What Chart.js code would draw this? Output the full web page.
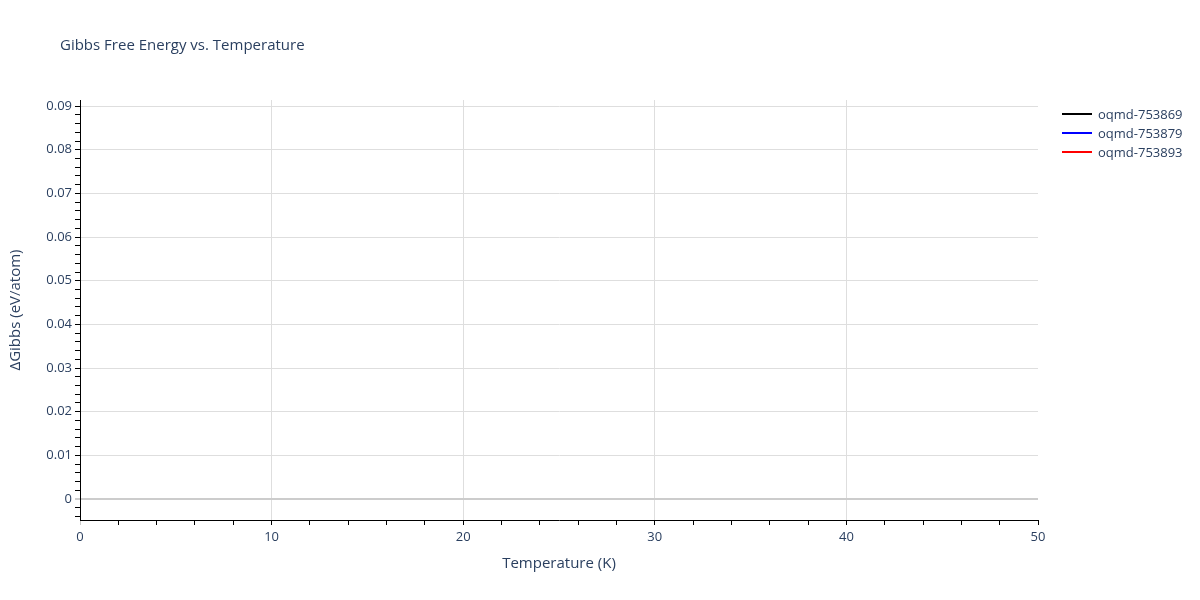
<!DOCTYPE html>
<html>
<head>
<meta charset="utf-8">
<script src="https://cdn.jsdelivr.net/npm/chart.js@4"></script>
<style>
  html, body { margin: 0; padding: 0; background: #fff; }
  #wrap { position: relative; width: 1200px; height: 600px; }
</style>
</head>
<body>
<div id="wrap"><canvas id="gibbsChart" width="1200" height="600"></canvas></div>
<script>
// --- data ---
const seriesNames = ['oqmd-753869', 'oqmd-753879', 'oqmd-753893'];
const seriesColors = ['#000000', '#0000ff', '#ff0000'];
// no points of these series fall inside the visible window
const series753869 = [];
const series753879 = [];
const series753893 = [];
const xTickLabels = [0, 10, 20, 30, 40, 50];
const yTickLabels = [0, 0.01, 0.02, 0.03, 0.04, 0.05, 0.06, 0.07, 0.08, 0.09];

const FONT = '"Open Sans", Verdana, Arial, sans-serif';
const TEXT = '#2a3f5f';
const GRID = '#dedede';
const ZERO = '#cccccc';

const isMajorX = v => xTickLabels.some(t => Math.abs(t - v) < 1e-9);
const isMajorY = v => yTickLabels.some(t => Math.abs(t - v) < 1e-9);

// titles and legend drawn at fixed spots, plotly-like
const textPlugin = {
    id: 'textPlugin',
    afterDraw(chart) {
        const ctx = chart.ctx;
        const area = chart.chartArea;
        ctx.save();
        ctx.fillStyle = TEXT;
        ctx.textBaseline = 'middle';

        ctx.font = '15px ' + FONT;
        ctx.textAlign = 'left';
        ctx.fillText('Gibbs Free Energy vs. Temperature', 60, 46);

        ctx.textAlign = 'center';
        ctx.fillText('Temperature (K)', (area.left + area.right) / 2, 564);

        ctx.save();
        ctx.translate(16, (area.top + area.bottom) / 2);
        ctx.rotate(-Math.PI / 2);
        ctx.fillText('\u0394Gibbs (eV/atom)', 0, 0);
        ctx.restore();

        // legend
        ctx.font = '13px ' + FONT;
        ctx.textAlign = 'left';
        chart.data.datasets.forEach((ds, i) => {
            const y = 114 + i * 19;
            ctx.strokeStyle = ds.borderColor;
            ctx.lineWidth = 2;
            ctx.beginPath();
            ctx.moveTo(1062, y);
            ctx.lineTo(1092, y);
            ctx.stroke();
            ctx.fillStyle = TEXT;
            ctx.fillText(ds.label, 1098, y + 1);
        });
        ctx.restore();
    }
};

const ctx = document.getElementById('gibbsChart').getContext('2d');
new Chart(ctx, {
    type: 'line',
    data: {
        datasets: [
            { label: seriesNames[0], data: series753869, borderColor: seriesColors[0], borderWidth: 2, pointRadius: 0 },
            { label: seriesNames[1], data: series753879, borderColor: seriesColors[1], borderWidth: 2, pointRadius: 0 },
            { label: seriesNames[2], data: series753893, borderColor: seriesColors[2], borderWidth: 2, pointRadius: 0 }
        ]
    },
    options: {
        responsive: false,
        animation: false,
        layout: { padding: { top: 100, right: 162, left: 0, bottom: 0 } },
        plugins: {
            legend: { display: false },
            title: { display: false },
            tooltip: { enabled: false }
        },
        scales: {
            x: {
                type: 'linear',
                min: 0,
                max: 50,
                afterFit(scale) { scale.height = 80; },
                afterBuildTicks(scale) {
                    const t = [];
                    for (let v = 0; v <= 50; v += 2) t.push({ value: v });
                    scale.ticks = t;
                },
                ticks: {
                    autoSkip: false,
                    maxRotation: 0,
                    padding: 4,
                    color: TEXT,
                    font: { family: FONT, size: 13 },
                    callback: v => isMajorX(v) ? String(v) : ''
                },
                grid: {
                    drawOnChartArea: true,
                    drawTicks: true,
                    tickLength: 5,
                    color: c => (isMajorX(c.tick.value) && c.tick.value !== 0 && c.tick.value !== 50) ? GRID : 'rgba(0,0,0,0)',
                    tickColor: c => c.tick.value === 0 ? ZERO : '#000000',
                    lineWidth: 1
                },
                border: { display: true, color: '#000000', width: 1 }
            },
            y: {
                type: 'linear',
                min: -0.0048,
                max: 0.0914,
                afterFit(scale) { scale.width = 80; },
                afterBuildTicks(scale) {
                    const t = [];
                    for (let k = -2; k <= 45; k++) t.push({ value: Math.round(k * 2) / 1000 });
                    scale.ticks = t;
                },
                ticks: {
                    autoSkip: false,
                    padding: 3,
                    color: TEXT,
                    font: { family: FONT, size: 13 },
                    callback: v => isMajorY(v) ? String(Math.round(v * 100) / 100) : ''
                },
                grid: {
                    drawOnChartArea: true,
                    drawTicks: true,
                    tickLength: 5,
                    color: c => c.tick.value === 0 ? ZERO : (isMajorY(c.tick.value) ? GRID : 'rgba(0,0,0,0)'),
                    lineWidth: c => c.tick.value === 0 ? 2 : 1,
                    tickColor: c => c.tick.value === 0 ? ZERO : '#000000',
                    tickWidth: c => c.tick.value === 0 ? 2 : 1
                },
                border: { display: true, color: '#000000', width: 1 }
            }
        }
    },
    plugins: [textPlugin]
});
</script>
</body>
</html>
